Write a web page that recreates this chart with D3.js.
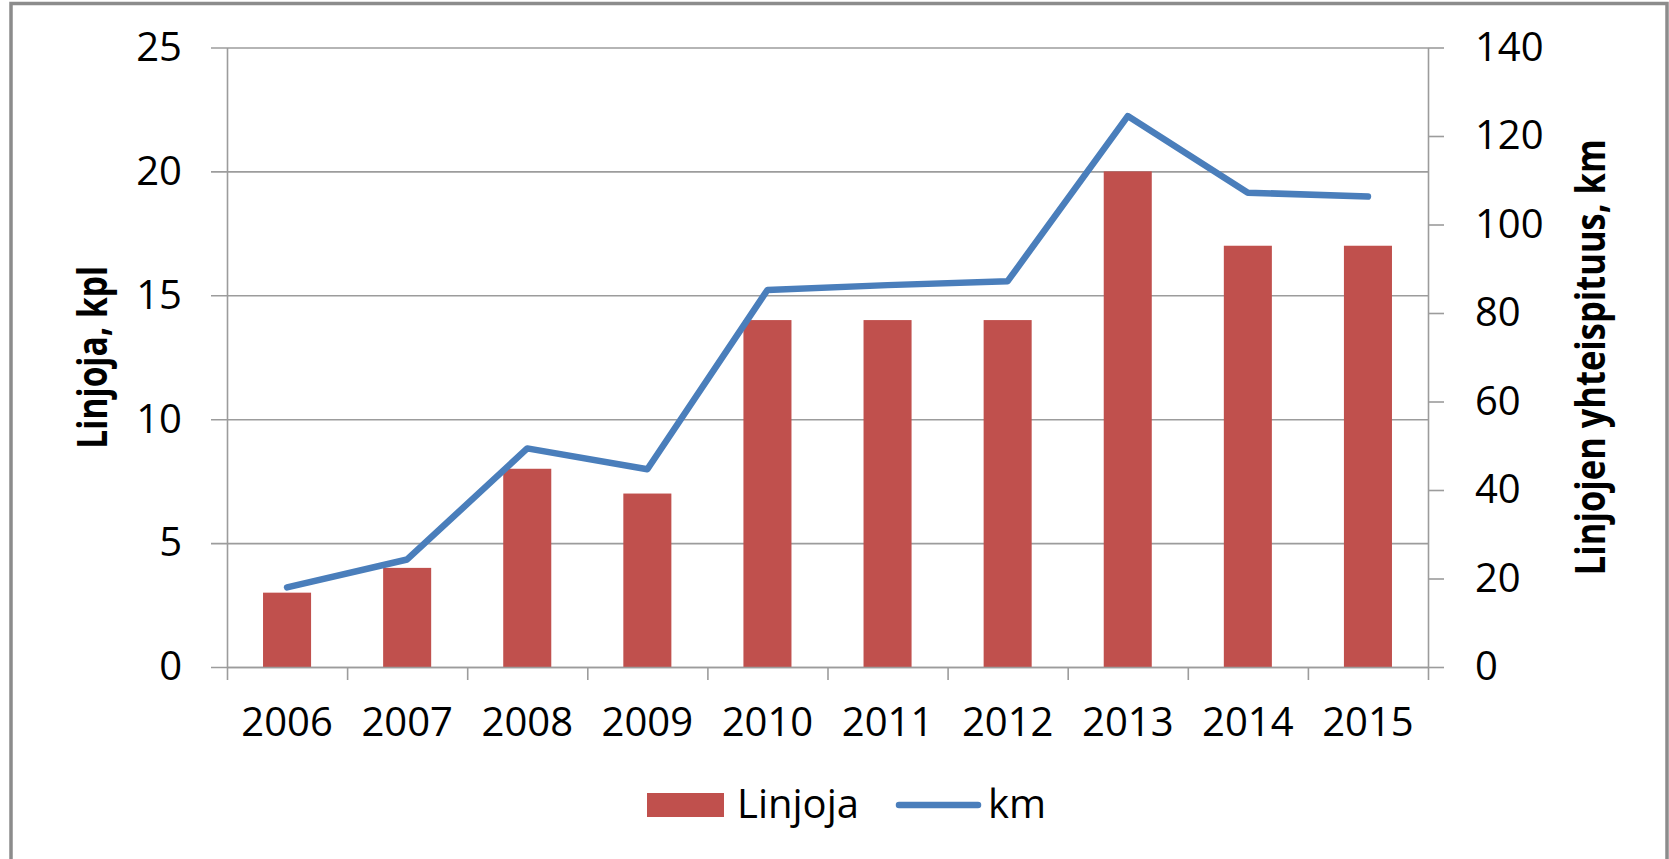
<!DOCTYPE html>
<html>
<head>
<meta charset="utf-8">
<script src="https://cdn.jsdelivr.net/npm/d3@7"></script>
<style>
  body { margin: 0; background: #fff; }
  svg text { font-family: "Open Sans", "Noto Sans", sans-serif; fill: #000; }
</style>
</head>
<body>
<div id="chart"></div>
<script>
// data
var years = ["2006", "2007", "2008", "2009", "2010", "2011", "2012", "2013", "2014", "2015"];
var linjoja = [3, 4, 8, 7, 14, 14, 14, 20, 17, 17];
var km = [18, 24.3, 49.4, 44.7, 85.2, 86.3, 87.2, 124.5, 107.2, 106.3];
var leftTicks = [0, 5, 10, 15, 20, 25];
var rightTicks = [0, 20, 40, 60, 80, 100, 120, 140];
var seriesNames = ["Linjoja", "km"];
var leftTitle = "Linjoja, kpl";
var rightTitle = "Linjojen yhteispituus, km";

var W = 1669, H = 859;
var plot = { left: 227, right: 1428, top: 47.5, bottom: 667 };
var barColor = "#C0504D", lineColor = "#4A7EBB", gridColor = "#9c9c9c";

var svg = d3.select("#chart").append("svg")
  .attr("width", W)
  .attr("height", H);

svg.append("rect").attr("width", W).attr("height", H).attr("fill", "#fff");

// outer frame (bottom edge is cut off in the original)
svg.append("rect")
  .attr("x", 11).attr("y", 3.5)
  .attr("width", 1656).attr("height", 900)
  .attr("fill", "none")
  .attr("stroke", "#8c8c8c")
  .attr("stroke-width", 3.5);

// scales
var x = d3.scaleBand()
  .domain(years)
  .range([plot.left, plot.right])
  .paddingInner(0.6)
  .paddingOuter(0.3);

var xEdge = d3.scaleLinear()
  .domain([0, years.length])
  .range([plot.left, plot.right]);

var yL = d3.scaleLinear().domain([0, 25]).range([plot.bottom, plot.top]);
var yR = d3.scaleLinear().domain([0, 140]).range([plot.bottom, plot.top]);

// gridlines (also the left tick marks)
var grid = svg.append("g")
  .attr("transform", "translate(" + (plot.left - 16) + ",0)")
  .call(d3.axisRight(yL).tickValues(leftTicks).tickSize(plot.right - plot.left + 16).tickFormat(""));
grid.select(".domain").remove();
grid.selectAll("line").attr("stroke", gridColor).attr("stroke-width", 1.6);

// bars
svg.append("g")
  .selectAll("rect")
  .data(years)
  .enter()
  .append("rect")
  .attr("x", function (d) { return x(d); })
  .attr("width", x.bandwidth())
  .attr("y", function (d, i) { return yL(linjoja[i]); })
  .attr("height", function (d, i) { return yL(0) - yL(linjoja[i]); })
  .attr("fill", barColor);

// category ticks at band edges
var xt = svg.append("g")
  .attr("transform", "translate(0," + plot.bottom + ")")
  .call(d3.axisBottom(xEdge).tickValues(d3.range(years.length + 1)).tickSize(13).tickSizeOuter(0).tickFormat(""));
xt.selectAll("line, path").attr("stroke", gridColor).attr("stroke-width", 1.6);

// category labels
var xl = svg.append("g")
  .attr("transform", "translate(0," + plot.bottom + ")")
  .call(d3.axisBottom(x).tickSize(0).tickPadding(41));
xl.select(".domain").remove();
xl.selectAll("text").style("font-size", "40px");

// left axis
var la = svg.append("g")
  .attr("transform", "translate(" + plot.left + ",0)")
  .call(d3.axisLeft(yL).tickValues(leftTicks).tickSize(0).tickSizeOuter(0).tickPadding(45));
la.select(".domain").attr("stroke", gridColor).attr("stroke-width", 1.6);
la.selectAll("text").style("font-size", "40px");

// right axis
var ra = svg.append("g")
  .attr("transform", "translate(" + plot.right + ",0)")
  .call(d3.axisRight(yR).tickValues(rightTicks).tickSize(16).tickSizeOuter(0).tickPadding(31));
ra.selectAll("line, path").attr("stroke", gridColor).attr("stroke-width", 1.6);
ra.selectAll("text").style("font-size", "40px");

// km line
var line = d3.line()
  .x(function (d, i) { return x(years[i]) + x.bandwidth() / 2; })
  .y(function (d) { return yR(d); });

svg.append("path")
  .datum(km)
  .attr("d", line)
  .attr("fill", "none")
  .attr("stroke", lineColor)
  .attr("stroke-width", 6.5)
  .attr("stroke-linejoin", "round")
  .attr("stroke-linecap", "round");

// axis titles
var midY = (plot.top + plot.bottom) / 2;
svg.append("text")
  .attr("transform", "translate(107," + midY + ") rotate(-90)")
  .attr("text-anchor", "middle")
  .attr("textLength", 183)
  .attr("lengthAdjust", "spacingAndGlyphs")
  .style("font-size", "42px")
  .style("font-weight", "bold")
  .text(leftTitle);

svg.append("text")
  .attr("transform", "translate(1605," + midY + ") rotate(-90)")
  .attr("text-anchor", "middle")
  .attr("textLength", 436)
  .attr("lengthAdjust", "spacingAndGlyphs")
  .style("font-size", "42px")
  .style("font-weight", "bold")
  .text(rightTitle);

// legend
var lg = svg.append("g");
lg.append("rect")
  .attr("x", 647).attr("y", 793)
  .attr("width", 77).attr("height", 24)
  .attr("fill", barColor);
lg.append("text")
  .attr("x", 737).attr("y", 818)
  .style("font-size", "40px")
  .text(seriesNames[0]);
lg.append("line")
  .attr("x1", 899).attr("x2", 978)
  .attr("y1", 805).attr("y2", 805)
  .attr("stroke", lineColor)
  .attr("stroke-width", 6.5)
  .attr("stroke-linecap", "round");
lg.append("text")
  .attr("x", 988).attr("y", 818)
  .style("font-size", "40px")
  .text(seriesNames[1]);
</script>
</body>
</html>
